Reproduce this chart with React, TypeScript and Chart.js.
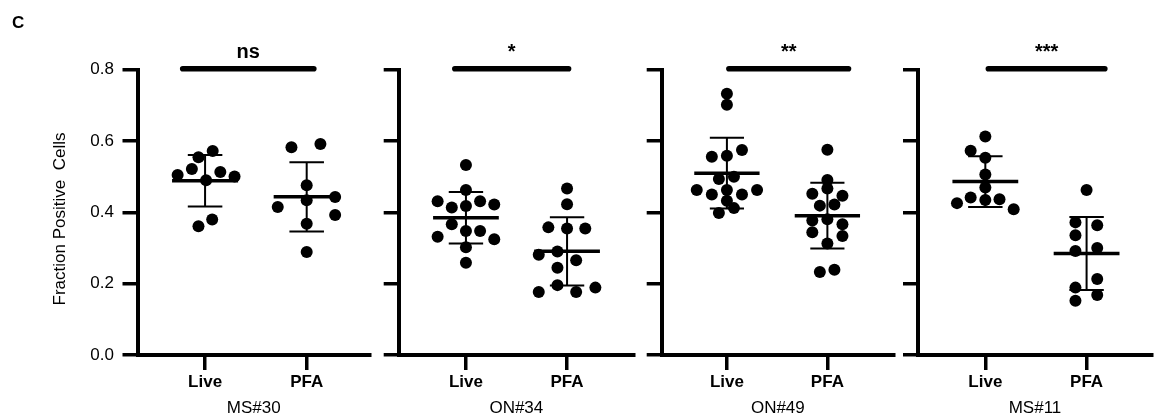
import React, { useEffect, useRef } from 'react';
import { Chart, registerables } from 'chart.js';

Chart.register(...registerables);

// ---------- data ----------
const groupLabels = ['Live', 'PFA'];
const panelNames = ['MS#30', 'ON#34', 'ON#49', 'MS#11'];
const significance = ['ns', '*', '**', '***'];
const yTickValues = [0, 0.2, 0.4, 0.6, 0.8];
const yAxisTitle = 'Fraction Positive  Cells';
const figureLetter = 'C';

// MS#30
const ms30Live = [0.572, 0.555, 0.522, 0.505, 0.513, 0.501, 0.49, 0.38, 0.361];
const ms30LiveJitter = [0.075, -0.065, -0.13, -0.27, 0.15, 0.29, 0.01, 0.07, -0.065];
const ms30Pfa = [0.583, 0.592, 0.476, 0.434, 0.443, 0.415, 0.393, 0.368, 0.289];
const ms30PfaJitter = [-0.15, 0.135, 0, 0, 0.28, -0.285, 0.28, 0, 0];

// ON#34
const on34Live = [0.533, 0.463, 0.431, 0.414, 0.418, 0.431, 0.422, 0.367, 0.348, 0.348, 0.332, 0.325, 0.302, 0.259];
const on34LiveJitter = [0, 0, -0.28, -0.14, 0, 0.14, 0.28, -0.14, 0, 0.14, -0.28, 0.28, 0, 0];
const on34Pfa = [0.467, 0.423, 0.358, 0.355, 0.355, 0.281, 0.29, 0.266, 0.245, 0.196, 0.177, 0.177, 0.189];
const on34PfaJitter = [0, 0, -0.185, 0, 0.18, -0.28, -0.095, 0.09, -0.095, -0.095, -0.28, 0.09, 0.28];

// ON#49
const on49Live = [0.733, 0.702, 0.556, 0.559, 0.575, 0.494, 0.5, 0.463, 0.45, 0.463, 0.45, 0.463, 0.433, 0.398, 0.412];
const on49LiveJitter = [0, 0, -0.15, 0, 0.15, -0.08, 0.07, -0.3, -0.15, 0, 0.15, 0.3, 0, -0.08, 0.07];
const on49Pfa = [0.576, 0.491, 0.467, 0.452, 0.447, 0.419, 0.422, 0.377, 0.381, 0.367, 0.344, 0.334, 0.313, 0.233, 0.239];
const on49PfaJitter = [0, 0, 0, -0.15, 0.15, -0.075, 0.07, -0.15, 0, 0.15, -0.15, 0.15, 0, -0.075, 0.07];

// MS#11
const ms11Live = [0.613, 0.573, 0.553, 0.506, 0.47, 0.426, 0.442, 0.435, 0.437, 0.409];
const ms11LiveJitter = [0, -0.145, 0, 0, 0, -0.28, -0.145, 0, 0.14, 0.28];
const ms11Pfa = [0.463, 0.372, 0.364, 0.336, 0.292, 0.3, 0.213, 0.189, 0.168, 0.152];
const ms11PfaJitter = [0, -0.11, 0.105, -0.11, -0.11, 0.105, 0.105, -0.11, 0.105, -0.11];

const liveSeries = [ms30Live, on34Live, on49Live, ms11Live];
const liveJitters = [ms30LiveJitter, on34LiveJitter, on49LiveJitter, ms11LiveJitter];
const pfaSeries = [ms30Pfa, on34Pfa, on49Pfa, ms11Pfa];
const pfaJitters = [ms30PfaJitter, on34PfaJitter, on49PfaJitter, ms11PfaJitter];

// significance bar extents, in category units (Live = 1, PFA = 2)
const sigStart = [0.78, 0.89, 1.02, 1.03];
const sigEnd = [2.07, 2.015, 2.21, 2.18];

// ---------- layout (pixels) ----------
const canvasLeft = [0, 376, 640, 900];
const canvasWidth = [376, 264, 260, 258];
const yScaleWidth = [137.5, 22.7, 21.7, 18];
const padRight = [5.3, 3.3, 3.3, 1.3];
const xMin = [0.335, 0.335, 0.351, 0.335];
const xMax = [2.623, 2.662, 2.663, 2.646];

const H = 417;
const FONT = "'Liberation Sans', Arial, Helvetica, sans-serif";

function meanSd(arr: number[]) {
  const m = arr.reduce((a, b) => a + b, 0) / arr.length;
  const v = arr.reduce((a, b) => a + (b - m) * (b - m), 0) / (arr.length - 1);
  return { m, sd: Math.sqrt(v) };
}

function makeDecor(idx: number) {
  return {
    id: 'decor' + idx,
    afterDatasetsDraw(chart: any) {
      const ctx = chart.ctx as CanvasRenderingContext2D;
      const xs = chart.scales.x;
      const ys = chart.scales.y;
      ctx.save();
      ctx.strokeStyle = '#000';
      ctx.fillStyle = '#000';
      const groups = [liveSeries[idx], pfaSeries[idx]];
      groups.forEach((g, gi) => {
        const cx = gi + 1;
        const { m, sd } = meanSd(g);
        const px = xs.getPixelForValue(cx);
        const yTop = ys.getPixelForValue(m + sd);
        const yBot = ys.getPixelForValue(m - sd);
        const yM = ys.getPixelForValue(m);
        ctx.lineCap = 'butt';
        ctx.lineWidth = 2;
        ctx.beginPath();
        ctx.moveTo(px, yTop);
        ctx.lineTo(px, yBot);
        ctx.moveTo(xs.getPixelForValue(cx - 0.17), yTop);
        ctx.lineTo(xs.getPixelForValue(cx + 0.17), yTop);
        ctx.moveTo(xs.getPixelForValue(cx - 0.17), yBot);
        ctx.lineTo(xs.getPixelForValue(cx + 0.17), yBot);
        ctx.stroke();
        ctx.lineWidth = 3.5;
        ctx.beginPath();
        ctx.moveTo(xs.getPixelForValue(cx - 0.325), yM);
        ctx.lineTo(xs.getPixelForValue(cx + 0.325), yM);
        ctx.stroke();
      });
      // significance bar
      const yb = ys.getPixelForValue(0.8) - 1;
      const x1 = xs.getPixelForValue(sigStart[idx]);
      const x2 = xs.getPixelForValue(sigEnd[idx]);
      ctx.lineWidth = 5.6;
      ctx.lineCap = 'round';
      ctx.beginPath();
      ctx.moveTo(x1, yb);
      ctx.lineTo(x2, yb);
      ctx.stroke();
      ctx.font = `bold 20px ${FONT}`;
      ctx.textAlign = 'center';
      ctx.textBaseline = 'alphabetic';
      ctx.fillText(significance[idx], (x1 + x2) / 2, 57.5);
      if (idx === 0) {
        ctx.font = `bold 17px ${FONT}`;
        ctx.textAlign = 'left';
        ctx.fillText(figureLetter, 12, 28.3);
        ctx.save();
        ctx.translate(60.5, 219);
        ctx.rotate(-Math.PI / 2);
        ctx.font = `17px ${FONT}`;
        ctx.textAlign = 'center';
        ctx.textBaseline = 'middle';
        ctx.fillText(yAxisTitle, 0, 0);
        ctx.restore();
      }
      ctx.restore();
    },
  };
}

function Panel({ idx }: { idx: number }) {
  const ref = useRef<HTMLCanvasElement>(null);
  useEffect(() => {
    const mk = (vals: number[], jit: number[], c: number) =>
      vals.map((v, i) => ({ x: c + jit[i], y: v }));
    const pointStyle = {
      pointRadius: 6,
      pointBackgroundColor: '#000',
      pointBorderWidth: 0,
      pointHoverRadius: 6,
      showLine: false,
    };
    const chart = new Chart(ref.current as HTMLCanvasElement, {
      type: 'scatter',
      data: {
        datasets: [
          { label: groupLabels[0], data: mk(liveSeries[idx], liveJitters[idx], 1), ...pointStyle },
          { label: groupLabels[1], data: mk(pfaSeries[idx], pfaJitters[idx], 2), ...pointStyle },
        ],
      },
      options: {
        animation: false,
        responsive: false,
        maintainAspectRatio: false,
        layout: { padding: { left: 0, right: padRight[idx], top: 69.8, bottom: 0 } },
        plugins: { legend: { display: false }, tooltip: { enabled: false } },
        scales: {
          x: {
            type: 'linear',
            min: xMin[idx],
            max: xMax[idx],
            afterBuildTicks: (s: any) => {
              s.ticks = [{ value: 1 }, { value: 2 }];
            },
            afterFit: (s: any) => {
              s.height = 62;
            },
            ticks: {
              callback: (v: any) => (v === 1 ? groupLabels[0] : v === 2 ? groupLabels[1] : ''),
              font: { family: FONT, size: 17, weight: 'bold' },
              color: '#000',
              padding: 2,
              autoSkip: false,
              maxRotation: 0,
            },
            grid: { display: true, drawOnChartArea: false, drawTicks: true, tickLength: 15, lineWidth: 3.5, color: '#000' },
            border: { display: true, width: 4, color: '#000' },
            title: {
              display: true,
              text: panelNames[idx],
              font: { family: FONT, size: 17 },
              color: '#000',
              padding: { top: 0, bottom: -2 },
            },
          },
          y: {
            min: 0,
            max: 0.8,
            afterBuildTicks: (s: any) => {
              s.ticks = yTickValues.map((v) => ({ value: v }));
            },
            afterFit: (s: any) => {
              s.width = yScaleWidth[idx];
            },
            ticks: {
              display: idx === 0,
              callback: (v: any) => Number(v).toFixed(1),
              font: { family: FONT, size: 17 },
              color: '#000',
              padding: 8.5,
            },
            grid: { display: true, drawOnChartArea: false, drawTicks: true, tickLength: 15, lineWidth: 3.5, color: '#000' },
            border: { display: true, width: 4, color: '#000' },
          },
        },
      } as any,
      plugins: [makeDecor(idx)],
    });
    return () => chart.destroy();
  }, [idx]);
  return (
    <canvas
      ref={ref}
      width={canvasWidth[idx]}
      height={H}
      style={{ position: 'absolute', left: canvasLeft[idx], top: 0, width: canvasWidth[idx], height: H }}
    />
  );
}

export default function App() {
  return (
    <div style={{ position: 'fixed', left: 0, top: 0, width: 1158, height: H, background: '#fff', overflow: 'hidden' }}>
      {[0, 1, 2, 3].map((i) => (
        <Panel key={i} idx={i} />
      ))}
    </div>
  );
}
